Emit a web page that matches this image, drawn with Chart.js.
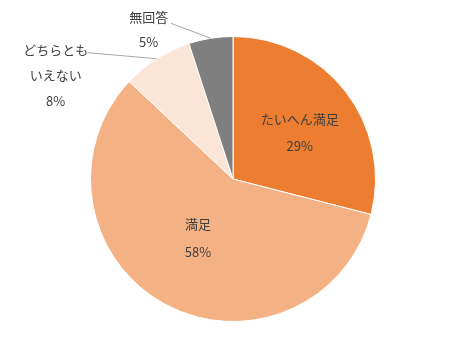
<!DOCTYPE html>
<html><head><meta charset="utf-8">
<script src="https://cdn.jsdelivr.net/npm/chart.js@4"></script>
<style>html,body{margin:0;padding:0;background:#fff}#w{width:466px;height:359px}</style>
</head><body><div id="w"><canvas id="c"></canvas></div>
<script>
const categories = ['たいへん満足', '満足', 'どちらともいえない', '無回答'];
const labelLines = [['たいへん満足'], ['満足'], ['どちらとも', 'いえない'], ['無回答']];
const values = [29, 58, 8, 5];
const colors = ['#ED7D31', '#F4B183', '#FBE5D6', '#7F7F7F'];

// label placement: inside -> polar (radius fraction, angle shift deg); outside -> leader line offset + text offset
const placement = [
  {inside: true, rf: 0.57, da: 3, gap: 27},
  {inside: true, rf: 0.48, da: 2, gap: 28},
  {inside: false, line: [-69, -6], text: [-32, -3], gap: 25.5},
  {inside: false, line: [-40, -15], text: [-22, -6], gap: 25}
];

const labelPlugin = {
  id: 'pieLabels',
  afterDatasetsDraw(chart) {
    const ctx = chart.ctx;
    const meta = chart.getDatasetMeta(0);
    const total = values.reduce((a, b) => a + b, 0);
    ctx.save();
    ctx.font = '13px "Noto Sans CJK JP", "Noto Sans", sans-serif';
    ctx.fillStyle = '#404040';
    ctx.textAlign = 'center';
    ctx.textBaseline = 'middle';
    meta.data.forEach((arc, i) => {
      const p = placement[i];
      const mid = (arc.startAngle + arc.endAngle) / 2;
      const pct = Math.round(values[i] / total * 100) + '%';
      const lines = labelLines[i].concat([pct]);
      let cx, cy;
      if (p.inside) {
        const a = mid + p.da * Math.PI / 180;
        cx = arc.x + Math.cos(a) * arc.outerRadius * p.rf;
        cy = arc.y + Math.sin(a) * arc.outerRadius * p.rf;
        cy -= (lines.length - 1) * p.gap / 2;
      } else {
        const ex = arc.x + Math.cos(mid) * arc.outerRadius;
        const ey = arc.y + Math.sin(mid) * arc.outerRadius;
        const lx = ex + p.line[0], ly = ey + p.line[1];
        ctx.strokeStyle = '#A6A6A6';
        ctx.lineWidth = 1;
        ctx.beginPath();
        ctx.moveTo(ex, ey);
        ctx.lineTo(lx, ly);
        ctx.stroke();
        cx = lx + p.text[0];
        cy = ly + p.text[1];
      }
      lines.forEach((t, k) => ctx.fillText(t, cx, cy + k * p.gap));
    });
    ctx.restore();
  }
};

new Chart(document.getElementById('c'), {
  type: 'pie',
  data: {
    labels: categories,
    datasets: [{data: values, backgroundColor: colors, borderColor: '#FFFFFF', borderWidth: 1}]
  },
  options: {
    responsive: true,
    maintainAspectRatio: false,
    animation: false,
    layout: {padding: {top: 36, bottom: 37, left: 0, right: 0}},
    plugins: {legend: {display: false}, tooltip: {enabled: false}}
  },
  plugins: [labelPlugin]
});
</script>
</body></html>
